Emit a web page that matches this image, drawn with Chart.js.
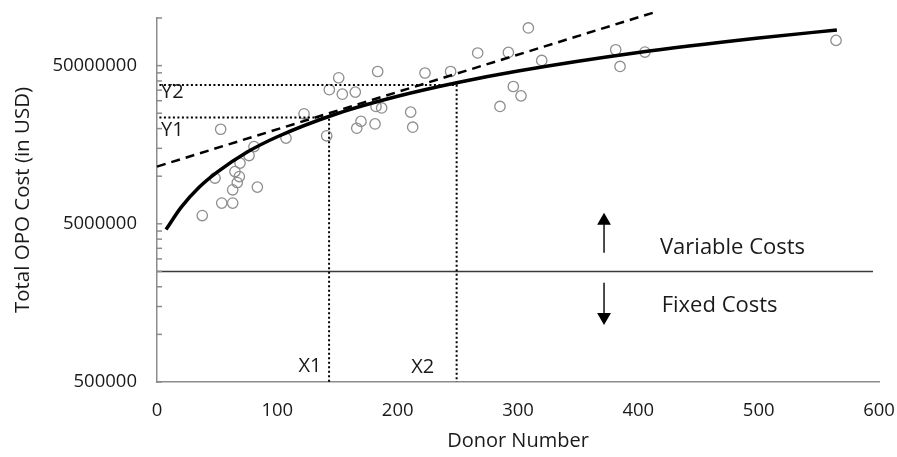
<!DOCTYPE html>
<html>
<head>
<meta charset="utf-8">
<script src="https://cdn.jsdelivr.net/npm/chart.js@4.4.1/dist/chart.umd.min.js"></script>
<style>
  html, body { margin: 0; padding: 0; background: #fff; }
  #wrap { width: 897px; height: 457px; }
</style>
</head>
<body>
<div id="wrap"><canvas id="chart" width="897" height="457"></canvas></div>
<script>
// ---- observed OPOs (donor number vs total cost) ----
const donorCount = [37.6, 53.8, 62.9, 52.9, 48.2, 62.9, 66.7, 68.4, 64.8, 69.0,
                    76.5, 80.6, 83.4, 107.2, 122.2, 141.0, 143.2, 151.0, 154.0, 164.8,
                    166.0, 169.5, 181.2, 182.0, 186.7, 183.4, 210.8, 212.5, 222.7, 244.0,
                    266.5, 285.0, 292.0, 296.1, 302.5, 308.6, 319.7, 381.2, 384.8, 405.5,
                    564.3];
const opoCost = [5.64e6, 6.76e6, 6.76e6, 19.8e6, 9.73e6, 8.2e6, 9.12e6, 9.95e6, 10.7e6, 12.1e6,
                 13.5e6, 15.4e6, 8.53e6, 17.4e6, 24.8e6, 18.0e6, 35.2e6, 41.9e6, 33.0e6, 34.0e6,
                 20.1e6, 22.2e6, 21.4e6, 27.6e6, 27.0e6, 45.9e6, 25.4e6, 20.4e6, 44.9e6, 45.9e6,
                 60.1e6, 27.6e6, 60.6e6, 36.9e6, 32.2e6, 86.5e6, 53.9e6, 63.0e6, 49.4e6, 60.9e6,
                 72.2e6];

// ---- linear trend (solid) ----
const linTrendX = [7.5, 20, 35, 50, 75, 100, 150, 200, 250, 300, 400, 500, 565];
const linTrendY = [4.6e6, 6.35e6, 8.5e6, 10.6e6, 14.2e6, 17.75e6, 24.9e6, 32.0e6, 39.1e6, 46.2e6, 60.5e6, 74.7e6, 84.0e6];

// ---- exponential trend (dashed) ----
const expTrendX = [0, 412];
const expTrendY = [11.5e6, 107.8e6];

// ---- marked points X1/X2, Y1/Y2 ----
const markX = [143, 249];
const markY = [23.5e6, 37.7e6];
const dottedStartX = 2;

// ---- fixed / variable cost split ----
const splitCost = 2.5e6;
const splitRange = [0, 595];
const arrowX = 371.5;
const upArrowY = [3.28e6, 5.22e6];
const downArrowY = [2.12e6, 1.29e6];

// ---- axes ----
const yTickValues = [5e5, 1e6, 1.5e6, 2e6, 2.5e6, 3e6, 3.5e6, 4e6, 4.5e6,
                     5e6, 1e7, 1.5e7, 2e7, 2.5e7, 3e7, 3.5e7, 4e7, 4.5e7,
                     5e7, 1e8];
const yLabelled = [5e5, 5e6, 5e7];

// ---- text notes on the plot ----
const notes = [
    { text: 'Y2', x: 3.3, y: 33.7e6, align: 'left', size: 20 },
    { text: 'Y1', x: 3.3, y: 19.4e6, align: 'left', size: 20 },
    { text: 'X1', x: 127.1, y: 6.26e5, align: 'center', size: 20 },
    { text: 'X2', x: 220.8, y: 6.2e5, align: 'center', size: 20 },
    { text: 'Variable Costs', x: 418, y: 3.51e6, align: 'left', size: 22 },
    { text: 'Fixed Costs', x: 419.4, y: 1.515e6, align: 'left', size: 22 }
];

const FONT = "'Open Sans', sans-serif";
const axisGrey = '#8c8c8c';
const textColor = '#1a1a1a';

const pts = (xs, ys) => xs.map((x, i) => ({ x: x, y: ys[i] }));

// inside tick marks on the y axis
const innerTicks = {
    id: 'innerTicks',
    afterDatasetsDraw(chart) {
        const ys = chart.scales.y;
        const left = chart.chartArea.left;
        const ctx = chart.ctx;
        ctx.save();
        ctx.strokeStyle = axisGrey;
        ctx.lineWidth = 1.5;
        yTickValues.forEach(v => {
            const py = ys.getPixelForValue(v);
            ctx.beginPath();
            ctx.moveTo(left, py);
            ctx.lineTo(left + 5, py);
            ctx.stroke();
        });
        ctx.restore();
    }
};

// free text labels
const noteLabels = {
    id: 'noteLabels',
    afterDatasetsDraw(chart) {
        const xs = chart.scales.x, ys = chart.scales.y, ctx = chart.ctx;
        ctx.save();
        ctx.fillStyle = textColor;
        ctx.textBaseline = 'middle';
        notes.forEach(n => {
            ctx.font = n.size + 'px ' + FONT;
            ctx.textAlign = n.align;
            ctx.fillText(n.text, xs.getPixelForValue(n.x), ys.getPixelForValue(n.y));
        });
        ctx.restore();
    }
};

const noScalePadding = s => {
    s.paddingTop = 0; s.paddingBottom = 0; s.paddingLeft = 0; s.paddingRight = 0;
};

const dotted = { borderColor: '#000', borderWidth: 2, borderDash: [2, 2.5], pointRadius: 0, showLine: true, fill: false };

new Chart(document.getElementById('chart'), {
    type: 'scatter',
    data: {
        datasets: [
            Object.assign({ data: [{ x: dottedStartX, y: markY[0] }, { x: markX[0], y: markY[0] }, { x: markX[0], y: 5e5 }] }, dotted),
            Object.assign({ data: [{ x: dottedStartX, y: markY[1] }, { x: markX[1], y: markY[1] }, { x: markX[1], y: 5e5 }] }, dotted),
            {
                data: [{ x: splitRange[0], y: splitCost }, { x: splitRange[1], y: splitCost }],
                showLine: true, borderColor: '#3a3a3a', borderWidth: 1.5, pointRadius: 0
            },
            {
                data: [{ x: arrowX, y: upArrowY[0] }, { x: arrowX, y: upArrowY[1] }],
                showLine: true, borderColor: '#111', borderWidth: 1.5,
                pointRadius: [0, 8], pointStyle: 'triangle', pointRotation: 0,
                pointBackgroundColor: '#000', pointBorderColor: '#000', pointBorderWidth: 0
            },
            {
                data: [{ x: arrowX, y: downArrowY[0] }, { x: arrowX, y: downArrowY[1] }],
                showLine: true, borderColor: '#111', borderWidth: 1.5,
                pointRadius: [0, 8], pointStyle: 'triangle', pointRotation: 180,
                pointBackgroundColor: '#000', pointBorderColor: '#000', pointBorderWidth: 0
            },
            {
                data: pts(expTrendX, expTrendY),
                showLine: true, borderColor: '#000', borderWidth: 2.5, borderDash: [9, 6],
                pointRadius: 0, clip: false
            },
            {
                data: pts(linTrendX, linTrendY),
                showLine: true, borderColor: '#000', borderWidth: 3.5,
                cubicInterpolationMode: 'monotone', pointRadius: 0
            },
            {
                data: pts(donorCount, opoCost),
                pointRadius: 5.2, pointBorderWidth: 1.3,
                pointBorderColor: '#8e8e8e', pointBackgroundColor: 'rgba(0,0,0,0)'
            }
        ]
    },
    options: {
        responsive: false,
        animation: false,
        layout: { padding: { top: 18, right: 18, left: 0, bottom: 0 } },
        plugins: { legend: { display: false }, tooltip: { enabled: false } },
        scales: {
            x: {
                type: 'linear', min: 0, max: 600,
                afterFit: s => { s.height = 75; noScalePadding(s); },
                grid: { display: false, drawTicks: false },
                border: { display: true, color: axisGrey, width: 1.5 },
                ticks: { stepSize: 100, padding: 18, color: textColor, font: { family: FONT, size: 18.5 } },
                title: { display: true, text: 'Donor Number', color: textColor, font: { family: FONT, size: 20 }, padding: { top: 0, bottom: 4 } }
            },
            y: {
                type: 'logarithmic', min: 5e5, max: 1e8,
                afterFit: s => { s.width = 157; noScalePadding(s); },
                afterBuildTicks: s => { s.ticks = yTickValues.map(v => ({ value: v })); },
                grid: { display: false, drawTicks: false },
                border: { display: true, color: axisGrey, width: 1.5 },
                ticks: {
                    autoSkip: false, padding: 20, color: textColor, font: { family: FONT, size: 18.5 },
                    callback: v => yLabelled.includes(v) ? String(v) : ''
                },
                title: { display: true, text: 'Total OPO Cost (in USD)', color: textColor, font: { family: FONT, size: 20.5 }, padding: { top: 11, bottom: 0 } }
            }
        }
    },
    plugins: [innerTicks, noteLabels]
});
</script>
</body>
</html>
